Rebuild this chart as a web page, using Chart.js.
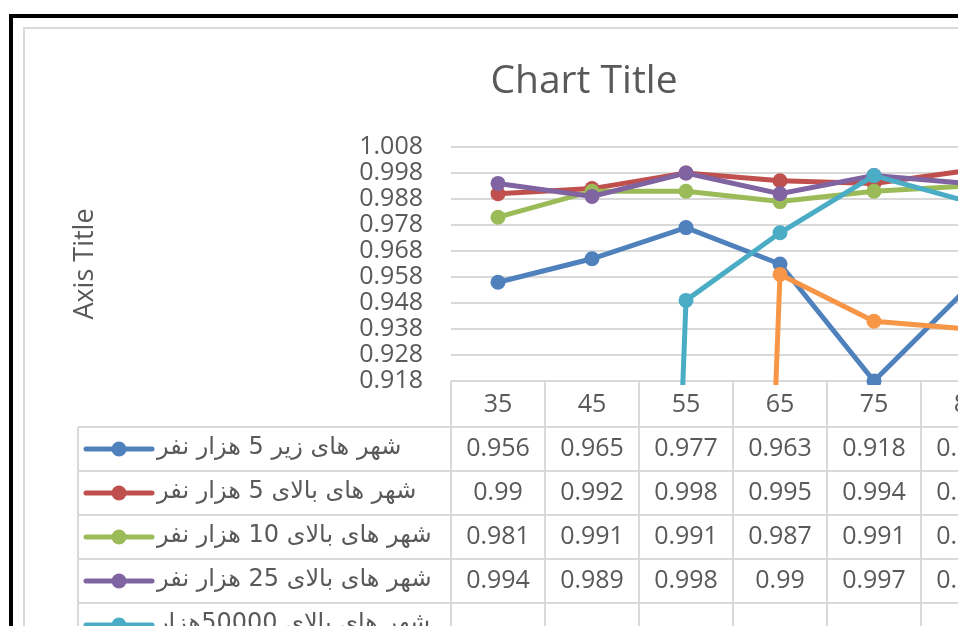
<!DOCTYPE html>
<html>
<head>
  <meta charset="utf-8">
  <title>Chart Title</title>
  <script src="https://cdn.jsdelivr.net/npm/chart.js@4.4.1/dist/chart.umd.min.js"></script>
  <style>
    body { margin: 0; width: 958px; height: 626px; overflow: hidden; background: #fff; }
    #frame { position: absolute; left: 9px; top: 14px; width: 1200px; height: 700px; border: 4px solid #000; }
    #box { position: absolute; left: 23px; top: 27px; width: 1200px; height: 700px; border: 2px solid #d9d9d9; }
    #chart { position: absolute; left: 25px; top: 29px; }
  </style>
</head>
<body>
  <div id="frame"></div>
  <div id="box"></div>
  <canvas id="chart" width="1118" height="660"></canvas>
  <script>
    var chartTitle = 'Chart Title';
    var axisTitle = 'Axis Title';
    var xLabels = ['35', '45', '55', '65', '75', '85'];
    var yTicks = [0.918, 0.928, 0.938, 0.948, 0.958, 0.968, 0.978, 0.988, 0.998, 1.008];

    var seriesNames = [
      'شهر های زیر 5 هزار نفر',
      'شهر های بالای 5 هزار نفر',
      'شهر های بالای 10 هزار نفر',
      'شهر های بالای 25 هزار نفر',
      'شهر های بالای 50000هزار نفر',
      'شهر های بالای 100 هزار نفر'
    ];
    var under5k  = [0.956, 0.965, 0.977, 0.963, 0.918, 0.954];
    var over5k   = [0.99, 0.992, 0.998, 0.995, 0.994, 0.999];
    var over10k  = [0.981, 0.991, 0.991, 0.987, 0.991, 0.993];
    var over25k  = [0.994, 0.989, 0.998, 0.99, 0.997, 0.994];
    var over50k  = [0, 0, 0.949, 0.975, 0.997, 0.987];
    var over100k = [0, 0, 0, 0.959, 0.941, 0.938];
    var seriesData = [under5k, over5k, over10k, over25k, over50k, over100k];
    var colors = ['#4f81bd', '#c0504d', '#9bbb59', '#8064a2', '#4bacc6', '#f79646'];

    var textGray = '#595959';
    var lineGray = '#d9d9d9';
    var numFont = "25px 'Open Sans', sans-serif";

    // title + data table under the plot, drawn from the x scale positions
    var tablePlugin = {
      id: 'dataTable',
      afterDraw: function (chart) {
        var ctx = chart.ctx;
        var x = chart.scales.x;
        var area = chart.chartArea;
        var step = x.getPixelForValue(1) - x.getPixelForValue(0);
        var legendLeft = 53;
        var headH = 46;
        var rowH = [44, 44, 44, 44, 78, 44];
        var right = x.getPixelForValue(xLabels.length - 1) + step / 2;

        ctx.save();
        ctx.fillStyle = textGray;
        ctx.textAlign = 'center';
        ctx.textBaseline = 'middle';
        ctx.font = "39px 'Open Sans', sans-serif";
        ctx.fillText(chartTitle, chart.width / 2, 53);

        var headBottom = area.bottom + headH;
        var bottom = headBottom;
        rowH.forEach(function (h) { bottom += h; });

        ctx.strokeStyle = lineGray;
        ctx.lineWidth = 2;
        ctx.beginPath();
        for (var i = 0; i <= xLabels.length; i++) {
          var bx = x.getPixelForValue(0) - step / 2 + i * step;
          ctx.moveTo(bx, area.bottom);
          ctx.lineTo(bx, bottom);
        }
        ctx.moveTo(legendLeft, headBottom);
        ctx.lineTo(legendLeft, bottom);
        var yy = headBottom;
        ctx.moveTo(legendLeft, yy);
        ctx.lineTo(right, yy);
        rowH.forEach(function (h) {
          yy += h;
          ctx.moveTo(legendLeft, yy);
          ctx.lineTo(right, yy);
        });
        ctx.stroke();

        // header labels
        ctx.font = numFont;
        xLabels.forEach(function (lab, i) {
          ctx.fillText(lab, x.getPixelForValue(i), area.bottom + headH / 2 + 1);
        });

        // rows
        var top = headBottom;
        seriesData.forEach(function (vals, s) {
          var h = rowH[s];
          var cy = top + h / 2;
          var ky = h > 50 ? top + 22 : cy;
          ctx.font = numFont;
          ctx.fillStyle = textGray;
          ctx.textAlign = 'center';
          ctx.direction = 'ltr';
          vals.forEach(function (v, i) {
            ctx.fillText(String(v), x.getPixelForValue(i), cy);
          });

          // legend key
          ctx.strokeStyle = colors[s];
          ctx.lineWidth = 5;
          ctx.lineCap = 'round';
          ctx.beginPath();
          ctx.moveTo(61, ky);
          ctx.lineTo(127, ky);
          ctx.stroke();
          ctx.fillStyle = colors[s];
          ctx.beginPath();
          ctx.arc(94, ky, 7.5, 0, Math.PI * 2);
          ctx.fill();

          // legend text (wrapped when long)
          ctx.fillStyle = textGray;
          ctx.font = "24px 'DejaVu Sans', sans-serif";
          ctx.direction = 'rtl';
          ctx.textAlign = 'left';
          var name = seriesNames[s];
          if (h > 50) {
            var cut = name.lastIndexOf(' ');
            ctx.fillText(name.slice(0, cut), 132, ky - 1);
            ctx.fillText(name.slice(cut + 1), 132, ky + 30);
          } else {
            ctx.fillText(name, 132, cy - 1);
          }
          top += h;
        });
        ctx.restore();
      }
    };

    var ctx = document.getElementById('chart');
    var chart = new Chart(ctx, {
      type: 'line',
      data: {
        labels: xLabels,
        datasets: seriesNames.map(function (n, i) {
          return {
            label: n,
            data: seriesData[i],
            borderColor: colors[i],
            backgroundColor: colors[i],
            borderWidth: 5,
            pointRadius: 7.5,
            pointHoverRadius: 7.5,
            pointBorderWidth: 0,
            tension: 0,
            order: 6 - i,
            clip: { left: false, top: false, right: false, bottom: 4 }
          };
        })
      },
      options: {
        responsive: false,
        animation: false,
        events: [],
        layout: { padding: { left: 0, top: 118, right: 128, bottom: 308 } },
        plugins: {
          legend: { display: false },
          title: { display: false },
          tooltip: { enabled: false }
        },
        scales: {
          x: { type: 'category', display: false, offset: true },
          y: {
            min: 0.918,
            max: 1.008,
            afterBuildTicks: function (s) {
              s.ticks = yTicks.map(function (v) { return { value: v }; });
            },
            afterFit: function (s) { s.width = 426; },
            grid: { color: lineGray, lineWidth: 2, drawTicks: false },
            border: { display: false },
            ticks: {
              autoSkip: false,
              padding: 28,
              color: textGray,
              font: { family: "'Open Sans', sans-serif", size: 25 },
              callback: function (v) { return v.toFixed(3); }
            },
            title: {
              display: true,
              text: axisTitle,
              color: textGray,
              font: { family: "'Open Sans', sans-serif", size: 27 },
              padding: { top: 44, bottom: 0 }
            }
          }
        }
      },
      plugins: [tablePlugin]
    });
  </script>
</body>
</html>
